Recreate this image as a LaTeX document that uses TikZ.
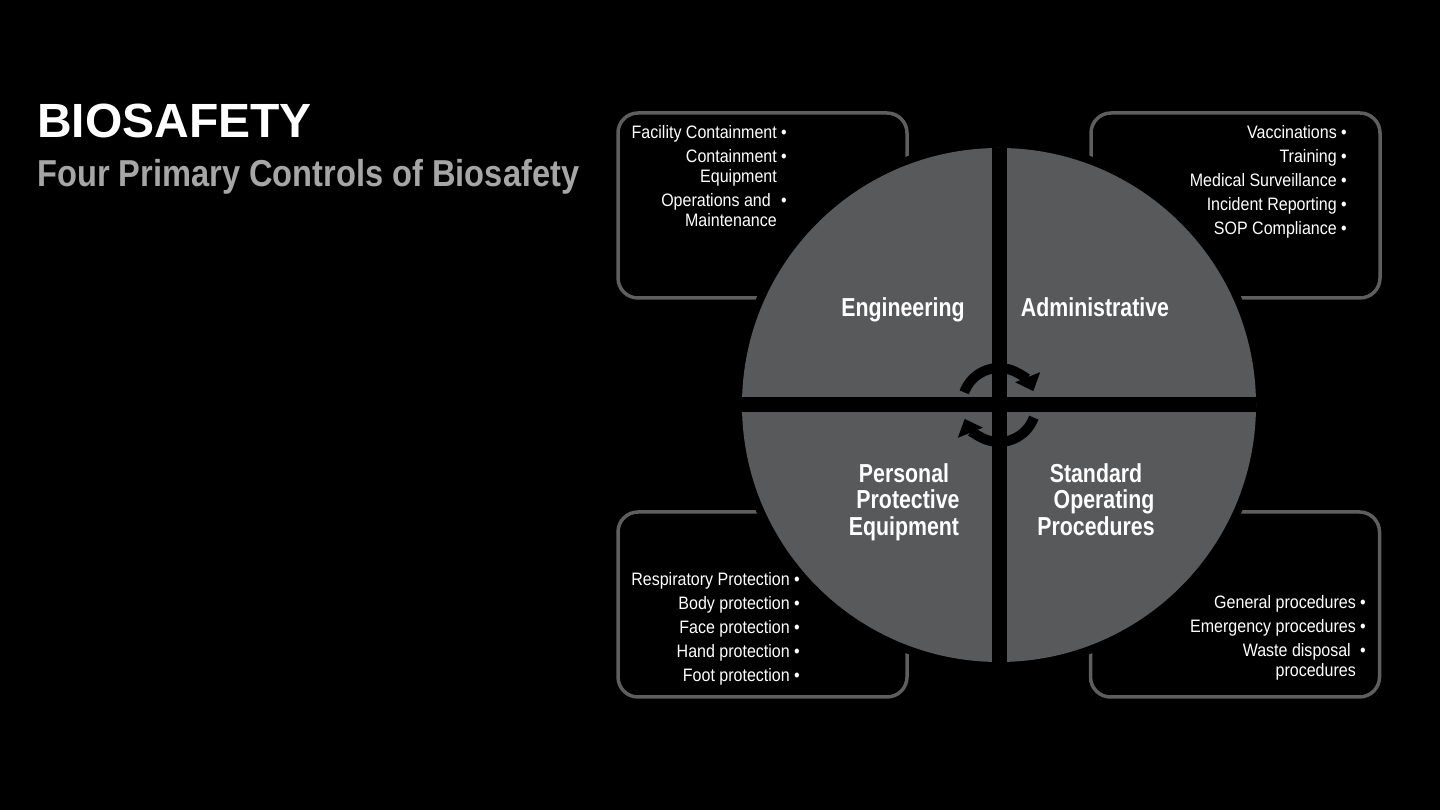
\documentclass[tikz,border=0pt]{standalone}
\usepackage{fontspec}
\setmainfont{Liberation Sans}
\newfontfamily\narrowfont[FakeStretch=0.87]{Liberation Sans}
\newfontfamily\itemfont[FakeStretch=0.89]{Liberation Sans}
\newfontfamily\labelfont[FakeStretch=0.82]{Liberation Sans}
\usetikzlibrary{arrows.meta}
\definecolor{quadgray}{HTML}{58595B}
\definecolor{boxgray}{HTML}{5E5E5E}
\definecolor{subgray}{HTML}{A6A6A6}
\newcommand{\bul}{\rlap{\ •}}
\tikzset{
	ctrlbox/.style={draw=boxgray, line width=3.5pt, rounded corners=20pt, minimum width=289pt, minimum height=185pt},
	itemtext/.style={text=white, align=right, inner sep=0pt, font=\itemfont\fontsize{18}{20}\selectfont},
	quadlabel/.style={text=white, align=center, inner sep=0pt, font=\labelfont\bfseries\fontsize{26}{26.5}\selectfont},
	cycarrow/.style={line width=10pt, -{Triangle[width=26pt,length=15pt]}},
}
\begin{document}
\begin{tikzpicture}[x=1pt, y=1pt]
	\fill[black] (0,0) rectangle (1440,810);
	\useasboundingbox (0,0) rectangle (1440,810);

	\node[anchor=base west, inner sep=0pt, text=white, font=\bfseries\fontsize{48}{50}\selectfont] (title) at (37,672) {BIOSAFETY};
	\node[anchor=base west, inner sep=0pt, text=subgray, font=\narrowfont\bfseries\fontsize{37.5}{40}\selectfont] (subtitle) at (37,623) {Four Primary Controls of Biosafety};

	\node[ctrlbox] (engbox) at (762.5,604.5) {};
	\node[ctrlbox] (admbox) at (1235.5,604.5) {};
	\node[ctrlbox] (ppebox) at (762.5,205.5) {};
	\node[ctrlbox] (sopbox) at (1235,205.5) {};

	\node[circle, fill=black, inner sep=0pt, minimum size=530pt] (rim) at (999,405) {};
	\node[circle, fill=quadgray, inner sep=0pt, minimum size=514pt] (wheel) at (999,405) {};
	\draw[line width=15pt] (wheel.north) -- (wheel.south);
	\draw[line width=15pt] (wheel.west) -- (wheel.east);

	\draw[cycarrow] ([shift={(160:37)}]wheel.center) arc[start angle=160, end angle=22, radius=37];
	\draw[cycarrow] ([shift={(-20:37)}]wheel.center) arc[start angle=-20, end angle=-158, radius=37];

	\node[quadlabel, anchor=base] (eng) at (903,493) {Engineering};
	\node[quadlabel, anchor=base] (adm) at (1095,493) {Administrative};
	\node[quadlabel, anchor=north] (ppe) at (904,347) {Personal\\\hspace*{8pt}Protective\\Equipment};
	\node[quadlabel, anchor=north] (sop) at (1096,347) {Standard\\\hspace*{16pt}Operating\\Procedures};

	\node[itemtext, anchor=north east] (engitems) at (777,685) {
		Facility Containment\bul\\[4pt]
		Containment\bul\\
		Equipment\\[4pt]
		Operations and\kern6pt\bul\\
		Maintenance
	};
	\node[itemtext, anchor=north east] (admitems) at (1337,685) {
		Vaccinations\bul\\[4pt]
		Training\bul\\[4pt]
		Medical Surveillance\bul\\[4pt]
		Incident Reporting\bul\\[4pt]
		SOP Compliance\bul
	};
	\node[itemtext, anchor=north east] (ppeitems) at (790,238) {
		Respiratory Protection\bul\\[4pt]
		Body protection\bul\\[4pt]
		Face protection\bul\\[4pt]
		Hand protection\bul\\[4pt]
		Foot protection\bul
	};
	\node[itemtext, anchor=north east] (sopitems) at (1356,215) {
		General procedures\bul\\[4pt]
		Emergency procedures\bul\\[4pt]
		Waste disposal\kern5pt\bul\\
		procedures
	};
\end{tikzpicture}
\end{document}
